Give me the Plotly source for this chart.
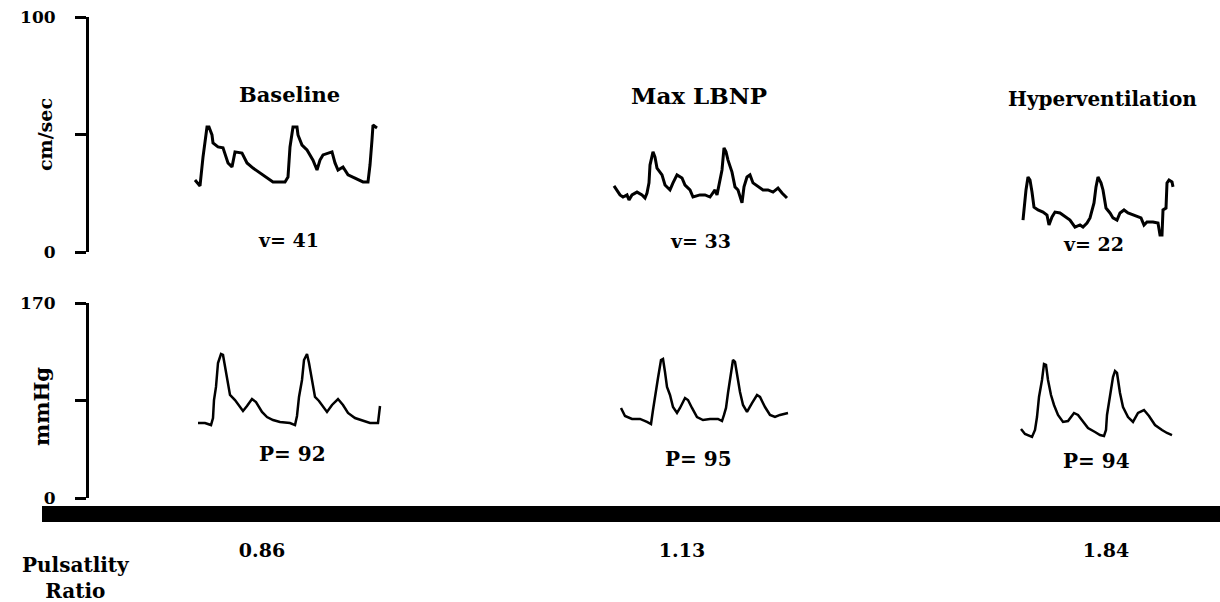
import plotly.graph_objects as go

# ---------------- data ----------------
conditions = ["Baseline", "Max LBNP", "Hyperventilation"]
mean_velocity = [41, 33, 22]          # cm/sec
mean_pressure = [92, 95, 94]          # mmHg
pulsatility_ratio = [0.86, 1.13, 1.84]

# cerebral blood flow velocity traces (time s, cm/sec)
base_v_t = [1.53, 1.58, 1.61, 1.65, 1.67, 1.70, 1.71, 1.76, 1.81, 1.86, 1.90, 1.93, 2.00, 2.05,
            2.11, 2.18, 2.26, 2.31, 2.43, 2.46, 2.48, 2.51, 2.55, 2.56, 2.60, 2.65, 2.71, 2.75,
            2.78, 2.81, 2.90, 2.93, 2.96, 3.01, 3.06, 3.13, 3.21, 3.26, 3.28, 3.30, 3.31, 3.35]
base_v = [30.6, 28.1, 40.4, 53.2, 53.2, 49.8, 46.4, 44.7, 44.3, 37.9, 36.2, 42.6, 42.1, 37.9,
          35.7, 33.6, 31.5, 29.8, 29.8, 31.9, 44.7, 53.2, 53.2, 49.8, 45.5, 43.4, 39.1, 34.9,
          39.1, 41.3, 42.6, 37.9, 34.9, 36.2, 32.8, 31.5, 29.8, 29.8, 37.0, 47.7, 54.0, 52.8]

lbnp_v_t = [5.72, 5.75, 5.78, 5.81, 5.85, 5.87, 5.90, 5.95, 6.00, 6.03, 6.05, 6.07, 6.08, 6.11,
            6.13, 6.15, 6.20, 6.23, 6.28, 6.31, 6.35, 6.40, 6.43, 6.48, 6.51, 6.58, 6.63, 6.68,
            6.73, 6.75, 6.78, 6.80, 6.82, 6.84, 6.86, 6.90, 6.93, 6.96, 7.00, 7.02, 7.05, 7.08,
            7.11, 7.16, 7.21, 7.26, 7.31, 7.36, 7.40, 7.45]
lbnp_v = [28.1, 26.4, 24.3, 23.4, 24.3, 22.1, 24.3, 25.5, 24.3, 23.0, 25.1, 29.4, 37.0, 42.6,
          40.4, 35.7, 32.8, 28.5, 26.4, 29.4, 32.8, 31.5, 28.5, 26.4, 23.4, 24.3, 24.3, 23.4,
          26.4, 24.3, 30.6, 34.9, 44.3, 42.6, 39.1, 34.0, 27.7, 26.4, 20.9, 27.7, 31.9, 32.8,
          29.4, 27.7, 26.4, 26.4, 25.5, 27.2, 25.1, 23.0]

hyper_v_t = [9.81, 9.82, 9.84, 9.86, 9.88, 9.90, 9.92, 9.96, 10.01, 10.05, 10.07, 10.10, 10.13,
             10.18, 10.23, 10.28, 10.33, 10.38, 10.41, 10.45, 10.48, 10.52, 10.54, 10.56, 10.59,
             10.61, 10.64, 10.68, 10.71, 10.75, 10.78, 10.82, 10.86, 10.91, 10.95, 10.99, 11.02,
             11.05, 11.11, 11.16, 11.18, 11.20, 11.21, 11.24, 11.25, 11.27, 11.30, 11.31]
hyper_v = [13.6, 18.7, 26.4, 31.9, 30.6, 25.5, 19.1, 17.9, 17.0, 15.7, 11.5, 14.9, 17.0,
           16.6, 14.9, 13.6, 10.6, 11.5, 10.6, 12.3, 14.5, 20.9, 27.7, 31.9, 29.4,
           26.4, 18.7, 16.6, 14.5, 13.6, 16.6, 17.9, 16.6, 15.7, 14.9, 14.5, 11.5,
           12.8, 12.8, 12.3, 7.2, 7.2, 17.9, 18.7, 29.4, 30.6, 29.8, 27.7]

# arterial pressure traces (time s, mmHg)
base_p_t = [1.56, 1.63, 1.69, 1.71, 1.72, 1.74, 1.76, 1.79, 1.81, 1.83, 1.85, 1.88, 1.93, 1.98,
            2.01, 2.05, 2.10, 2.14, 2.20, 2.25, 2.31, 2.38, 2.48, 2.53, 2.55, 2.57, 2.60, 2.62,
            2.65, 2.67, 2.70, 2.73, 2.77, 2.81, 2.85, 2.90, 2.96, 3.01, 3.06, 3.13, 3.20, 3.28,
            3.36, 3.38]
base_p = [65.4, 65.4, 63.6, 69.7, 85.4, 96.8, 117.7, 125.5, 124.7, 114.2, 102.9, 89.8, 85.4, 79.3,
          75.9, 80.2, 86.3, 83.7, 75.0, 70.6, 68.0, 66.3, 65.4, 63.6, 71.5, 88.1, 102.9, 120.3,
          125.5, 117.7, 102.9, 88.1, 84.6, 79.3, 75.0, 81.1, 86.3, 81.1, 74.1, 69.7, 68.0, 65.4,
          65.4, 80.2]

lbnp_p_t = [5.79, 5.83, 5.90, 5.98, 6.05, 6.09, 6.11, 6.13, 6.16, 6.19, 6.21, 6.23, 6.25, 6.28,
            6.31, 6.35, 6.38, 6.43, 6.46, 6.50, 6.55, 6.61, 6.68, 6.76, 6.80, 6.82, 6.84, 6.86,
            6.89, 6.91, 6.93, 6.95, 6.98, 7.01, 7.05, 7.10, 7.15, 7.18, 7.23, 7.28, 7.33, 7.38,
            7.46]
lbnp_p = [78.5, 71.5, 68.9, 68.9, 66.3, 64.5, 76.7, 89.8, 104.6, 120.3, 121.2, 109.9, 96.8, 89.8,
          79.3, 74.1, 78.5, 87.2, 85.4, 78.5, 70.6, 68.0, 68.9, 68.9, 67.1, 72.4, 78.5, 91.5,
          109.0, 120.3, 118.6, 107.2, 92.4, 81.1, 75.0, 82.8, 89.8, 88.1, 79.3, 72.4, 70.6, 72.4,
          74.1]

hyper_p_t = [9.79, 9.83, 9.90, 9.93, 9.95, 9.97, 10.00, 10.02, 10.04, 10.06, 10.09, 10.12, 10.16,
             10.21, 10.26, 10.32, 10.36, 10.41, 10.46, 10.53, 10.58, 10.62, 10.64, 10.65, 10.68,
             10.71, 10.73, 10.75, 10.78, 10.81, 10.86, 10.91, 10.96, 11.02, 11.07, 11.13, 11.20,
             11.25, 11.30]
hyper_p = [60.2, 55.8, 53.2, 59.3, 70.6, 88.1, 102.9, 116.8, 116.0, 102.9, 89.8, 81.1, 72.4,
           66.3, 67.1, 74.1, 72.4, 66.3, 61.0, 57.5, 54.9, 54.1, 59.3, 72.4, 88.1,
           105.5, 110.7, 109.0, 91.5, 79.3, 70.6, 66.3, 74.1, 76.7, 71.5, 63.6, 59.3,
           56.7, 54.9]

velocity_traces = [(base_v_t, base_v), (lbnp_v_t, lbnp_v), (hyper_v_t, hyper_v)]
pressure_traces = [(base_p_t, base_p), (lbnp_p_t, lbnp_p), (hyper_p_t, hyper_p)]

# ---------------- layout helpers ----------------
W, H = 1220, 602
FONT = "DejaVu Serif"


def px(x):
    return x / W


def py(y):
    return 1 - y / H


def bold(size):
    return dict(family=FONT, size=size, color="black", weight="bold")


fig = go.Figure()
for t, v in velocity_traces:
    fig.add_trace(go.Scatter(x=t, y=v, mode="lines", xaxis="x", yaxis="y",
                             line=dict(color="black", width=3), showlegend=False,
                             hoverinfo="skip"))
for t, p in pressure_traces:
    fig.add_trace(go.Scatter(x=t, y=p, mode="lines", xaxis="x", yaxis="y2",
                             line=dict(color="black", width=2.5), showlegend=False,
                             hoverinfo="skip"))

annotations = []


def note(text, x, y, size, xref="x", **kw):
    annotations.append(dict(text=text, x=x, xref=xref, y=py(y), yref="paper",
                            xanchor="center", yanchor="middle", showarrow=False,
                            font=bold(size), **kw))


# condition titles
title_x = [2.47, 6.57, 10.60]
title_y = [95, 96, 99]
title_size = [21, 23, 20]
for name, x, y, s in zip(conditions, title_x, title_y, title_size):
    note(name, x, y, s)
# mean velocity labels
vx = [2.46, 6.58, 10.51]
vy = [240, 241, 244]
for val, x, y in zip(mean_velocity, vx, vy):
    note(f"v= {val}", x, y, 19)
# mean pressure labels
pxs = [2.50, 6.56, 10.54]
pys = [454, 459, 461]
for val, x, y in zip(mean_pressure, pxs, pys):
    note(f"P= {val}", x, y, 20)
# axis titles
note("cm/sec", px(45), 135, 19, xref="paper", textangle=-90)
note("mmHg", px(41), 407, 21, xref="paper", textangle=-90)
note("Pulsatlity<br>Ratio", px(76), 578, 20, xref="paper", align="center")
fig.update_layout(annotations=annotations)

tick_font = bold(17)
fig.update_layout(
    width=W, height=H,
    margin=dict(l=0, r=0, t=0, b=0, pad=0, autoexpand=False),
    paper_bgcolor="white", plot_bgcolor="white",
    xaxis=dict(domain=[px(42), 1], range=[0, 11.78], anchor="free", position=py(514),
               showgrid=False, zeroline=False, showline=True, linecolor="black",
               linewidth=16, ticks="", tickvals=[2.20, 6.40, 10.64],
               ticktext=[f"{r:.2f}" for r in pulsatility_ratio],
               tickfont=bold(19), ticklabelstandoff=12, automargin=False),
    yaxis=dict(domain=[py(252), py(17)], range=[0, 100], anchor="free", position=px(87),
               showgrid=False, zeroline=False, showline=True, linecolor="black", linewidth=3,
               ticks="outside", ticklen=11, tickwidth=3, tickcolor="black",
               tickvals=[0, 50, 100], ticktext=["0", "", "100"], tickfont=tick_font,
               ticklabelstandoff=16, automargin=False),
    yaxis2=dict(domain=[py(498), py(303)], range=[0, 170], anchor="free", position=px(87),
                showgrid=False, zeroline=False, showline=True, linecolor="black", linewidth=3,
                ticks="outside", ticklen=11, tickwidth=3, tickcolor="black",
                tickvals=[0, 85, 170], ticktext=["0", "", "170"], tickfont=tick_font,
                ticklabelstandoff=16, automargin=False),
)

fig.write_html("out.html")
